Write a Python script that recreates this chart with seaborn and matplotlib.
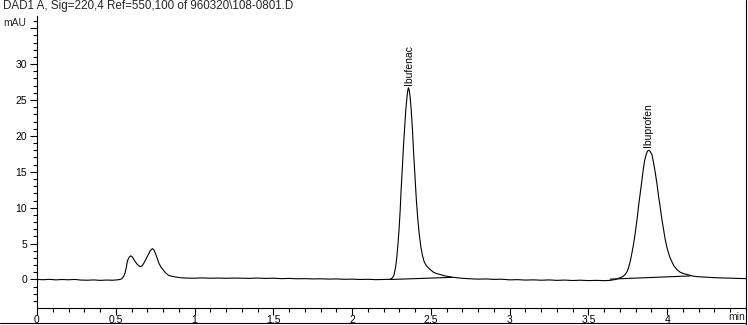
import matplotlib
matplotlib.use("Agg")
import matplotlib.pyplot as plt
import seaborn as sns
import pandas as pd
from matplotlib.lines import Line2D
from matplotlib.ticker import MultipleLocator

# ---- data ----
time_min = [0.00, 0.04, 0.08, 0.12, 0.16, 0.20, 0.24, 0.28, 0.32, 0.36, 0.40, 0.44, 0.48,
            0.51, 0.525, 0.538, 0.549, 0.559, 0.567, 0.574, 0.585, 0.595, 0.605, 0.612,
            0.623, 0.633, 0.644, 0.654, 0.667, 0.679, 0.693, 0.707, 0.720, 0.732, 0.743,
            0.754, 0.765, 0.775, 0.788, 0.802, 0.818, 0.834, 0.855, 0.876, 0.90, 0.919,
            0.95, 1.00, 1.05, 1.10, 1.15, 1.20, 1.25, 1.30, 1.35, 1.40, 1.45, 1.50, 1.55,
            1.60, 1.65, 1.70, 1.75, 1.80, 1.85, 1.90, 1.95, 2.00, 2.05, 2.10, 2.15, 2.20,
            2.235, 2.248, 2.256, 2.263, 2.268, 2.273, 2.279, 2.284, 2.291, 2.298, 2.305,
            2.311, 2.319, 2.326, 2.334, 2.341, 2.347, 2.351, 2.355, 2.358, 2.362, 2.368,
            2.375, 2.383, 2.391, 2.400, 2.408, 2.417, 2.426, 2.436, 2.446, 2.457, 2.470,
            2.485, 2.50, 2.517, 2.537, 2.559, 2.59, 2.633, 2.69, 2.75, 2.80, 2.85, 2.90,
            2.95, 3.00, 3.05, 3.10, 3.15, 3.20, 3.25, 3.30, 3.35, 3.40, 3.45, 3.50, 3.55,
            3.60, 3.638, 3.67, 3.70, 3.718, 3.733, 3.744, 3.754, 3.765, 3.776, 3.787,
            3.797, 3.808, 3.818, 3.829, 3.839, 3.848, 3.856, 3.866, 3.874, 3.881, 3.890,
            3.903, 3.913, 3.924, 3.935, 3.945, 3.956, 3.966, 3.977, 3.987, 4.000, 4.015,
            4.030, 4.044, 4.063, 4.083, 4.104, 4.125, 4.146, 4.167, 4.19, 4.21, 4.25,
            4.30, 4.35, 4.40, 4.45, 4.50]
signal_mau = [0.00, -0.03, 0.02, -0.05, 0.00, -0.04, 0.01, -0.08, -0.10, -0.06, -0.12, -0.08, -0.10,
              -0.05, 0.00, 0.10, 0.40, 0.90, 1.70, 2.60, 3.10, 3.30, 3.15, 2.90,
              2.50, 2.20, 1.95, 1.80, 1.90, 2.30, 2.90, 3.50, 4.05, 4.30, 4.10,
              3.50, 2.80, 2.20, 1.70, 1.30, 0.90, 0.60, 0.45, 0.37, 0.28, 0.23,
              0.20, 0.18, 0.22, 0.18, 0.20, 0.17, 0.20, 0.18, 0.16, 0.20, 0.15, 0.18, 0.12,
              0.15, 0.10, 0.12, 0.08, 0.10, 0.06, 0.08, 0.03, 0.05, 0.00, 0.03, -0.02, 0.00,
              0.02, 0.10, 0.25, 0.46, 0.85, 1.40, 2.20, 3.20, 4.90, 7.00, 9.60,
              12.50, 15.60, 18.60, 21.30, 23.70, 25.10, 26.00, 26.50, 26.70, 26.40, 25.50,
              23.60, 20.90, 17.40, 13.90, 11.00, 8.40, 6.30, 4.60, 3.40, 2.50, 1.95,
              1.60, 1.30, 1.00, 0.82, 0.70, 0.50, 0.33, 0.18, 0.10, 0.05, 0.08, 0.02,
              0.04, -0.05, -0.02, -0.08, -0.05, -0.10, -0.06, -0.12, -0.08, -0.14, -0.10, -0.15, -0.12,
              -0.16, -0.12, 0.00, 0.23, 0.40, 0.70, 1.05, 1.60, 2.50, 3.70, 5.00,
              6.50, 8.30, 10.20, 12.10, 13.90, 15.30, 16.50, 17.40, 17.85, 18.00, 17.90,
              17.40, 16.30, 14.90, 13.30, 11.60, 10.00, 8.40, 6.90, 5.60, 4.30, 3.20,
              2.45, 1.85, 1.35, 1.00, 0.82, 0.70, 0.57, 0.46, 0.40, 0.37, 0.30,
              0.25, 0.22, 0.18, 0.15, 0.12]

# integration baselines drawn under the two named peaks
ibufenac_base_t = [2.241, 2.633]
ibufenac_base_y = [0.00, 0.30]
ibuprofen_base_t = [3.638, 4.146]
ibuprofen_base_y = [0.05, 0.50]

peak_names = ["Ibufenac", "Ibuprofen"]
peak_times = [2.358, 3.881]
peak_heights = [26.7, 18.0]

title = "DAD1 A, Sig=220,4 Ref=550,100 of 960320\\108-0801.D"
x_major = [0, 0.5, 1, 1.5, 2, 2.5, 3, 3.5, 4]
x_labels = ["0", "0.5", "1", "1.5", "2", "2.5", "3", "3.5", "4"]
y_major = [0, 5, 10, 15, 20, 25, 30, 35]
y_labels = ["0", "5", "10", "15", "20", "25", "30", ""]

# ---- plotting ----
sns.set_style("white")
plt.rcParams["font.family"] = ["Liberation Sans", "DejaVu Sans"]

W, H = 748, 325
fig = plt.figure(figsize=(W / 100, H / 100), dpi=100)
ax = fig.add_axes([37 / W, 1 - 307.5 / H, (746 - 37) / W, (307.5 - 16) / H])

df = pd.DataFrame({"t": time_min, "mAU": signal_mau})
sns.lineplot(data=df, x="t", y="mAU", ax=ax, color="black", lw=0.8,
             sort=False, estimator=None)
ax.plot(ibufenac_base_t, ibufenac_base_y, color="black", lw=0.8)
ax.plot(ibuprofen_base_t, ibuprofen_base_y, color="black", lw=0.8)

for name, t, h in zip(peak_names, peak_times, peak_heights):
    ax.text(t, h + 0.4, name, rotation=90, ha="center", va="bottom",
            fontsize=7.5, color="black")

ax.set_xlim(0, 4.5)
ax.set_ylim(-3.9, 36.7)
ax.set_xticks(x_major)
ax.set_xticklabels(x_labels)
ax.set_yticks(y_major)
ax.set_yticklabels(y_labels)
ax.xaxis.set_minor_locator(MultipleLocator(0.1))
ax.yaxis.set_minor_locator(MultipleLocator(1))
ax.tick_params(axis="both", which="major", direction="out", length=5, width=0.8,
               labelsize=7.5, colors="black", pad=2)
ax.tick_params(axis="x", which="major", pad=0.3)
ax.tick_params(axis="both", which="minor", direction="out", length=3, width=0.8,
               colors="black")
ax.tick_params(axis="x", which="both", bottom=True)
ax.tick_params(axis="y", which="both", left=True)
ax.set_xlabel("")
ax.set_ylabel("")
for s in ["top", "right"]:
    ax.spines[s].set_visible(False)
for s in ["left", "bottom"]:
    ax.spines[s].set_color("black")
    ax.spines[s].set_linewidth(0.8)

fig.text(3 / W, 1 - 6 / H, title, ha="left", va="center", fontsize=8.4)
fig.text(3 / W, 1 - 23 / H, "mAU", ha="left", va="center", fontsize=7.5)
fig.text(745 / W, 1 - 317.5 / H, "min", ha="right", va="center", fontsize=7.5)

# frame lines at right and bottom edges
fig.add_artist(Line2D([746 / W, 746 / W], [0, 1], transform=fig.transFigure,
                      color="black", lw=0.8))
fig.add_artist(Line2D([0, 746 / W], [1 - 323 / H, 1 - 323 / H], transform=fig.transFigure,
                      color="black", lw=0.8))

fig.savefig("out.png", dpi=100)
